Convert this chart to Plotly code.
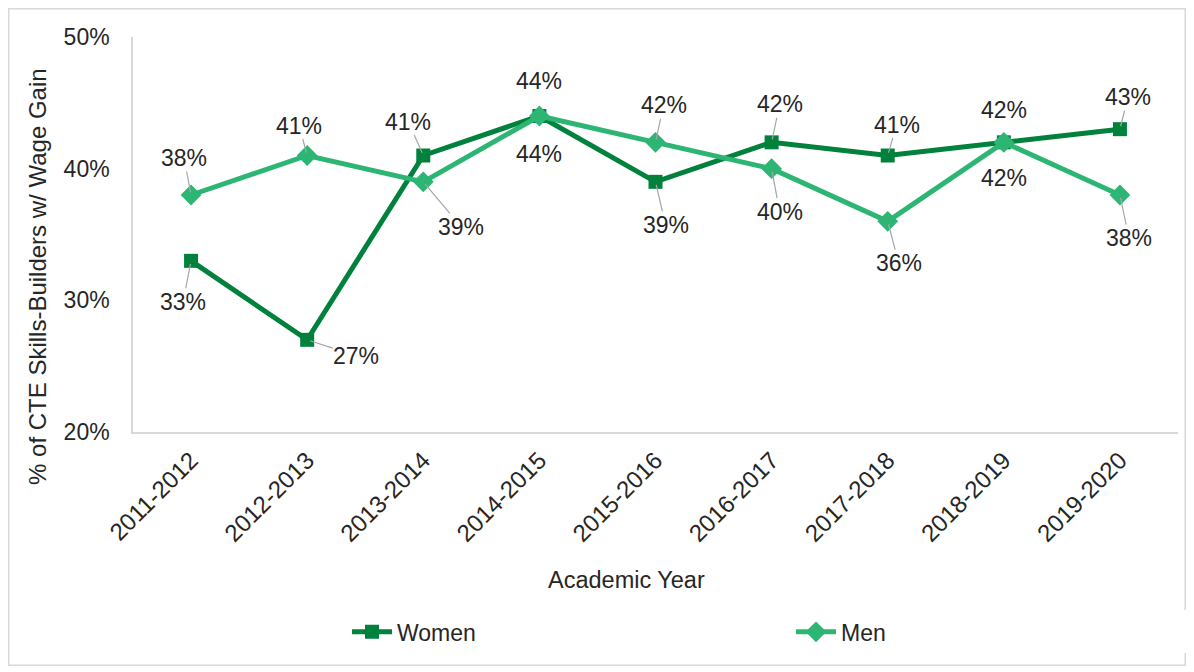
import plotly.graph_objects as go

years = ["2011-2012", "2012-2013", "2013-2014", "2014-2015", "2015-2016",
         "2016-2017", "2017-2018", "2018-2019", "2019-2020"]
women = [33, 27, 41, 44, 39, 42, 41, 42, 43]
men = [38, 41, 39, 44, 42, 40, 36, 42, 38]
y_ticks = [20, 30, 40, 50]

WOMEN_COLOR = "#00813C"
MEN_COLOR = "#2DB673"
FONT = "Liberation Sans, Arial, sans-serif"
TEXT = "#262626"

# label offsets (pixels) of each data label relative to its point, and leader flag
women_off = [(-8, 41, True), (49, 16, True), (-15, -34, True), (0, -35, False), (10, 43, True),
             (8, -38, True), (9, -31, True), (0, -32, False), (8, -32, True)]
men_off = [(-7, -37, True), (-8, -30, True), (38, 45, True), (0, 38, False), (8, -37, True),
           (8, 43, True), (11, 42, True), (0, 36, False), (9, 43, True)]

fig = go.Figure()
fig.add_trace(go.Scatter(
    x=years, y=women, name="Women", mode="lines+markers",
    line=dict(color=WOMEN_COLOR, width=5),
    marker=dict(symbol="square", size=14, color=WOMEN_COLOR),
))
fig.add_trace(go.Scatter(
    x=years, y=men, name="Men", mode="lines+markers",
    line=dict(color=MEN_COLOR, width=5),
    marker=dict(symbol="diamond", size=16, color=MEN_COLOR),
))

for series, offs in ((women, women_off), (men, men_off)):
    for yr, v, (dx, dy, lead) in zip(years, series, offs):
        fig.add_annotation(
            x=yr, y=v, text=f"{v}%", showarrow=True, ax=dx, ay=dy,
            arrowhead=0, arrowwidth=1.2, standoff=3, borderpad=0,
            arrowcolor="#A6A6A6" if lead else "rgba(0,0,0,0)",
            font=dict(family=FONT, size=23, color=TEXT),
        )

# axis titles
fig.add_annotation(text="Academic Year", xref="paper", yref="paper",
                   x=0.4718, y=-0.3747, xanchor="center", yanchor="middle",
                   showarrow=False, font=dict(family=FONT, size=23.5, color=TEXT))
fig.add_annotation(text="% of CTE Skills-Builders w/ Wage Gain", xref="paper", yref="paper",
                   x=-0.0919, y=0.3949, xanchor="center", yanchor="middle", textangle=-90,
                   showarrow=False, font=dict(family=FONT, size=24, color=TEXT))

# outer chart border
fig.add_shape(type="rect", xref="paper", yref="paper",
              x0=-0.1189, x1=1.0069, y0=-0.5905, y1=1.0715,
              line=dict(color="#D9D9D9", width=1.5), fillcolor="rgba(0,0,0,0)")

fig.update_layout(
    width=1178, height=658,
    margin=dict(l=125, r=8, t=29, b=234, autoexpand=False),
    paper_bgcolor="white", plot_bgcolor="white",
    font=dict(family=FONT, size=20, color=TEXT),
    showlegend=True,
    legend=dict(orientation="h", x=0.2048, y=-0.506, xanchor="left", yanchor="middle",
                entrywidth=389, entrywidthmode="pixels",
                font=dict(family=FONT, size=23, color=TEXT), itemwidth=40),
    xaxis=dict(
        type="category", range=[-0.5, 8.5], showgrid=False,
        showline=True, linecolor="#D9D9D9", linewidth=1.5,
        tickangle=-45, tickfont=dict(family=FONT, size=24, color=TEXT),
        ticks="outside", ticklen=3, tickcolor="rgba(0,0,0,0)", automargin=False,
    ),
    yaxis=dict(
        range=[20, 50], tickvals=y_ticks, ticktext=[f"{t}%" for t in y_ticks],
        showgrid=False, zeroline=False,
        showline=True, linecolor="#D9D9D9", linewidth=1.5,
        ticks="outside", ticklen=17, tickcolor="rgba(0,0,0,0)",
        tickfont=dict(family=FONT, size=23, color=TEXT),
        automargin=False,
    ),
)

fig.write_html("out.html")
